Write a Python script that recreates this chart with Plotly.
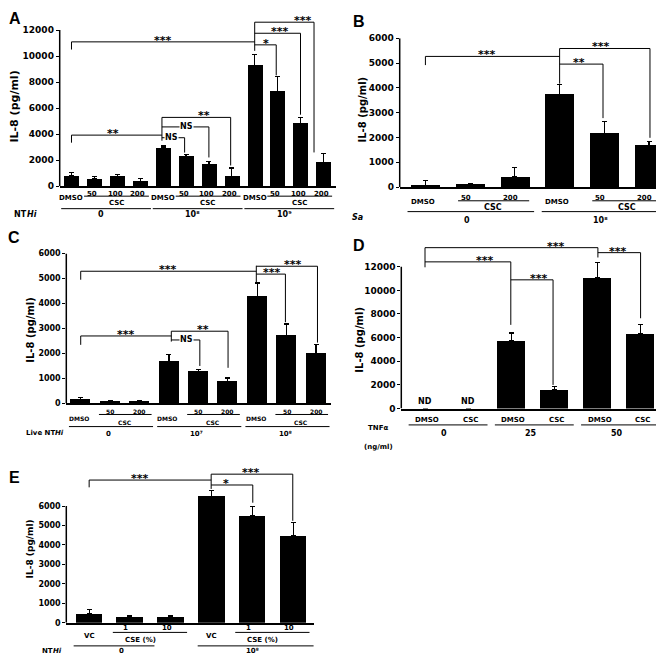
import plotly.graph_objects as go

W, H = 664, 655
FONT = "DejaVu Sans"

# ---------------- data ----------------
# Panel A
a_labels = ["DMSO", "50", "100", "200"] * 3
a_groups = ["0", "10⁸", "10⁹"]
a_values = [820, 580, 750, 370, 2950, 2300, 1700, 760, 9300, 7300, 4850, 1850]
a_upper = [1030, 780, 930, 600, 3100, 2470, 1890, 1400, 10150, 8440, 5290, 2500]
a_yticks = [0, 2000, 4000, 6000, 8000, 10000, 12000]

# Panel B
b_labels = ["DMSO", "50", "200"] * 2
b_groups = ["0", "10⁸"]
b_values = [60, 90, 400, 3730, 2170, 1670]
b_upper = [265, 150, 800, 4145, 2635, 1840]
b_yticks = [0, 1000, 2000, 3000, 4000, 5000, 6000]

# Panel C
c_labels = ["DMSO", "50", "200"] * 3
c_groups = ["0", "10⁷", "10⁸"]
c_values = [160, 80, 80, 1690, 1285, 865, 4270, 2725, 2000]
c_upper = [225, 120, 105, 1950, 1360, 1020, 4820, 3180, 2345]
c_yticks = [0, 1000, 2000, 3000, 4000, 5000, 6000]

# Panel D
d_labels = ["DMSO", "CSC"] * 3
d_groups = ["0", "25", "50"]
d_values = [0, 0, 5750, 1580, 11050, 6330]
d_upper = [0, 0, 6390, 1890, 12360, 7140]
d_notes = ["ND", "ND", "", "", "", ""]
d_yticks = [0, 2000, 4000, 6000, 8000, 10000, 12000]

# Panel E
e_labels = ["VC", "1", "10"] * 2
e_groups = ["0", "10⁸"]
e_values = [470, 300, 300, 6510, 5495, 4470]
e_upper = [670, 370, 370, 6795, 5986, 5160]
e_yticks = [0, 1000, 2000, 3000, 4000, 5000, 6000]

Y_TITLE = "IL-8 (pg/ml)"

# ---------------- helpers ----------------
fig = go.Figure()
layout = {}
shapes = []
annots = []


def yp(px):
    return 1 - px / H


def xp(px):
    return px / W


def sfx(i):
    return "" if i == 1 else str(i)


def fnt(size, italic=False, family=FONT):
    d = dict(family=family, size=size, color="black", weight="bold")
    if italic:
        d["style"] = "italic"
    return d


def panel(i, values, upper, x0px, x1px, xr, y0px, k, ymax, yticks, bw, tsize):
    s = sfx(i)
    n = len(values)
    fig.add_trace(go.Bar(
        x=list(range(n)), y=values, width=bw,
        marker=dict(color="black", line=dict(width=0)),
        error_y=dict(type="data", symmetric=False,
                     array=[u - v for u, v in zip(upper, values)],
                     arrayminus=[0] * n, color="black", thickness=1.2, width=2.5),
        xaxis="x" + s, yaxis="y" + s, showlegend=False, hoverinfo="skip"))
    layout["xaxis" + s] = dict(domain=[xp(x0px), xp(x1px)], range=xr, anchor="y" + s,
                               showline=True, linecolor="black", linewidth=1.5,
                               ticks="", showticklabels=False, showgrid=False, zeroline=False)
    top = min(1.0, yp(y0px - ymax / k))
    layout["yaxis" + s] = dict(domain=[yp(y0px), top], range=[0, ymax], anchor="x" + s,
                               tickvals=yticks, ticktext=[str(t) for t in yticks],
                               ticks="outside", ticklen=3, tickwidth=1, tickcolor="black",
                               showline=False, showgrid=False, zeroline=False,
                               tickfont=fnt(tsize))
    shapes.append(dict(type="line", xref="x%s domain" % s, yref="y" + s,
                       x0=0, x1=0, y0=0, y1=max(yticks),
                       line=dict(color="black", width=1.5)))


def seg(i, xa, ya, xb, yb):
    s = sfx(i)
    shapes.append(dict(type="line", xref="x" + s, yref="y" + s, x0=xa, y0=ya, x1=xb, y1=yb,
                       line=dict(color="black", width=1)))


def bracket(i, label, xa, xb, y, ya_end, yb_end, lx, size=11):
    s = sfx(i)
    seg(i, xa, y, xb, y)
    if ya_end is not None:
        seg(i, xa, y, xa, ya_end)
    if yb_end is not None:
        seg(i, xb, y, xb, yb_end)
    if label == "NS":
        annots.append(dict(xref="x" + s, yref="y" + s, x=lx, y=y, text="NS", showarrow=False,
                           yanchor="middle", bgcolor="white", borderpad=0, font=fnt(8)))
    else:
        annots.append(dict(xref="x" + s, yref="y" + s, x=lx, y=y, text=label,
                           showarrow=False, yanchor="bottom", yshift=-7, font=fnt(size)))


def hub(i, x, ya, yb):
    seg(i, x, ya, x, yb)


def lab(i, x, ypx, text, size):
    s = sfx(i)
    annots.append(dict(xref="x" + s, yref="paper", x=x, y=yp(ypx), text=text,
                       showarrow=False, yanchor="middle", xanchor="center", font=fnt(size)))


def plab(xpx, ypx, text, size, angle=0, family=FONT, anchor="center", italic=False, xshift=0):
    annots.append(dict(xref="paper", yref="paper", x=xp(xpx), y=yp(ypx), text=text,
                       showarrow=False, yanchor="middle", xanchor=anchor, textangle=angle,
                       borderpad=0, xshift=xshift, font=fnt(size, italic, family)))


def factor(xpx, ypx, plain, ital, size):
    # factor name where the organism abbreviation is italic
    if plain:
        plab(xpx, ypx, plain, size, anchor="right", xshift=1)
    plab(xpx, ypx, ital, size, anchor="left", italic=True, xshift=-1)


def hl(i, xa, xb, ypx, w=1):
    s = sfx(i)
    shapes.append(dict(type="line", xref="x" + s, yref="paper", x0=xa, x1=xb, y0=yp(ypx), y1=yp(ypx),
                       line=dict(color="black", width=w)))


# ---------------- Panel A ----------------
panel(1, a_values, a_upper, 51.7, 328, [-0.515, 11.55], 176, 75.6, 13300, a_yticks, 0.655, 9)
bracket(1, "***", 0, 8, 11090, 10500, None, 4.0)
bracket(1, "***", 8, 10.59, 12600, None, 2600, 10.1)
bracket(1, "***", 8, 10, 11750, None, 5500, 9.1)
bracket(1, "*", 8, 8.94, 10860, None, 8520, 8.5)
hub(1, 8, 12600, 10400)
bracket(1, "**", 0, 3.95, 3930, 3350, None, 1.8)
bracket(1, "**", 3.95, 6.95, 5290, None, 1600, 5.8)
bracket(1, "NS", 3.95, 6.0, 4560, None, 2215, 5.0)
bracket(1, "NS", 3.95, 4.94, 3730, None, 2590, 4.36)
hub(1, 3.95, 5290, 3500)
for g in range(3):
    b0 = 4 * g
    lab(1, b0, 188, a_labels[b0], 7)
    for j in range(1, 4):
        lab(1, b0 + j - 0.1, 183.3, a_labels[b0 + j], 7)
    hl(1, b0 + 1 - 0.45, b0 + 3 + 0.38, 186)
    lab(1, b0 + 2 - 0.05, 192.5, "CSC", 7)
    hl(1, b0 - 0.45, b0 + 3 + 0.47, 198.7)
    lab(1, b0 + 1.5 - 0.2, 205, a_groups[g], 8)
factor(19, 205, "NT", "Hi", 8)
plab(7, 95, Y_TITLE, 11, angle=-90)
plab(7, 6, "A", 16, family="Liberation Sans")

# ---------------- Panel B ----------------
panel(2, b_values, b_upper, 391.7, 663, [-0.575, 5.49], 176.7, 39.74, 6000, b_yticks, 0.65, 9)
bracket(2, "***", 0, 3, 5270, 4920, None, 1.38)
bracket(2, "***", 3, 5.02, 5590, None, 1985, 3.93)
bracket(2, "**", 3, 3.97, 4960, None, 2780, 3.43)
hub(2, 3, 5590, 4170)
for g in range(2):
    b0 = 3 * g
    lab(2, b0 - 0.05, 192.3, b_labels[b0], 7)
    for j in range(1, 3):
        lab(2, b0 + j - 0.1, 187.7, b_labels[b0 + j], 7)
    hl(2, b0 + 1 - 0.27, b0 + 2 + 0.32, 190.7)
    lab(2, b0 + 1.5, 197.7, "CSC", 8)
    hl(2, b0 - 0.4, b0 + 2 + 0.43, 201.7)
    lab(2, b0 + 1 - 0.08, 210.5, b_groups[g], 8)
factor(344, 208, "", "Sa", 8)
plab(355, 98, Y_TITLE, 10, angle=-90)
plab(351, 9, "B", 16, family="Liberation Sans")

# ---------------- Panel C ----------------
panel(3, c_values, c_upper, 58.3, 323, [-0.49, 8.51], 396.5, 39.4, 6000, c_yticks, 0.68, 8)
bracket(3, "***", 0, 5.97, 5290, 4950, None, 2.97)
bracket(3, "***", 5.97, 8.05, 5490, None, 2435, 7.22)
bracket(3, "***", 5.97, 6.96, 5175, None, 3250, 6.5)
hub(3, 5.97, 5510, 4830)
bracket(3, "***", 0, 3.08, 2700, 2345, None, 1.55)
bracket(3, "**", 3.08, 5.01, 2890, None, 1425, 4.16)
bracket(3, "NS", 3.08, 4.05, 2540, None, 1500, 3.58)
hub(3, 3.08, 2890, 2475)
for g in range(3):
    b0 = 3 * g
    lab(3, b0 - 0.05, 411.5, c_labels[b0], 6)
    for j in range(1, 3):
        lab(3, b0 + j, 405, c_labels[b0 + j], 6)
    hl(3, b0 + 1 - 0.38, b0 + 2 + 0.41, 407.7)
    lab(3, b0 + 1.5, 415.7, "CSC", 6)
    hl(3, b0 - 0.4, b0 + 2 + 0.46, 420)
    lab(3, b0 + 1 - 0.05, 428, c_groups[g], 7)
factor(47, 427, "Live NT", "Hi", 7)
plab(21.7, 322, Y_TITLE, 10, angle=-90)
plab(6, 228, "C", 16, family="Liberation Sans")

# ---------------- Panel D ----------------
panel(4, d_values, d_upper, 393.3, 655, [-0.55, 5.52], 401.7, 83.3, 14200, d_yticks, 0.65, 9)
bracket(4, "***", 0, 4.01, 13610, 11950, None, 3.04)
bracket(4, "***", 4.01, 5.0, 13190, None, 7640, 4.48)
hub(4, 4.01, 13610, 12780)
bracket(4, "***", 0, 1.99, 12410, None, 7080, 1.38)
bracket(4, "***", 1.99, 2.97, 10890, None, 2000, 2.64)
for idx, note in enumerate(d_notes):
    if note:
        annots.append(dict(xref="x4", yref="y4", x=idx, y=d_values[idx], text=note,
                           showarrow=False, yanchor="bottom", yshift=1, font=fnt(8)))
for g in range(3):
    b0 = 2 * g
    for j in range(2):
        lab(4, b0 + j + 0.05, 413.3, d_labels[b0 + j], 7)
    hl(4, b0 - 0.38, b0 + 1 + 0.45, 418.3)
    lab(4, b0 + 0.5 - 0.05, 427, d_groups[g], 8)
plab(370, 421, "TNFα", 7)
plab(370, 441, "(ng/ml)", 7)
plab(351.7, 332, Y_TITLE, 10, angle=-90)
plab(351, 236, "D", 16, family="Liberation Sans")

# ---------------- Panel E ----------------
panel(5, e_values, e_upper, 58.3, 306, [-0.56, 5.51], 619.3, 50.6, 8000, e_yticks, 0.65, 8)
bracket(5, "***", 0, 2.99, 7337, 6963, None, 1.24)
bracket(5, "***", 2.99, 4.99, 7640, None, 5242, 3.97)
bracket(5, "*", 2.99, 4.01, 7084, None, 6173, 3.36)
hub(5, 2.99, 7640, 6882)
e_spans = [(-0.38, 1.6), (2.66, 5.5)]
for g in range(2):
    b0 = 3 * g
    lab(5, b0, 633, e_labels[b0], 7)
    for j in range(1, 3):
        lab(5, b0 + j - 0.1, 624.3, e_labels[b0 + j], 7)
    hl(5, b0 + 1 - 0.42, b0 + 2 + 0.4, 629)
    lab(5, b0 + 1.5 - 0.25, 636.7, "CSE (%)", 7)
    hl(5, e_spans[g][0], e_spans[g][1], 642.7)
    lab(5, b0 + 1 - 0.2 * (1 - g), 648, e_groups[g], 7)
factor(45, 648, "NT", "Hi", 7)
plab(21.7, 544, Y_TITLE, 9, angle=-90)
plab(6, 472, "E", 16, family="Liberation Sans")

fig.update_layout(**layout)
fig.update_layout(width=W, height=H, margin=dict(l=0, r=0, t=0, b=0),
                  paper_bgcolor="white", plot_bgcolor="white",
                  shapes=shapes, annotations=annots, bargap=0,
                  font=dict(family=FONT, color="black"))
fig.write_html("out.html")
